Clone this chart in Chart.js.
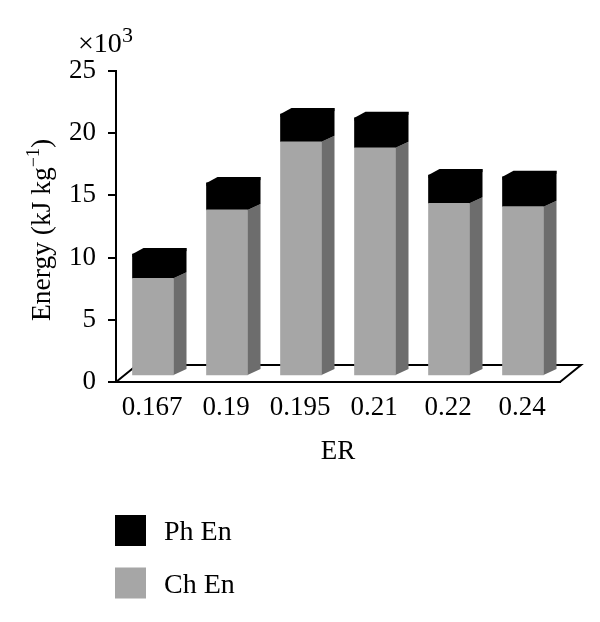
<!DOCTYPE html>
<html>
<head>
<meta charset="utf-8">
<title>Energy vs ER</title>
<script src="https://cdn.jsdelivr.net/npm/chart.js@4/dist/chart.umd.min.js"></script>
<style>
  html, body { margin: 0; padding: 0; background: #fff; }
  canvas { display: block; }
</style>
</head>
<body>
<canvas id="chart" width="600" height="622"></canvas>
<script>
const categories = ["0.167", "0.19", "0.195", "0.21", "0.22", "0.24"];
const chEn = [7.85, 13.35, 18.83, 18.35, 13.88, 13.61];
const phEn = [1.95, 2.17, 2.23, 2.41, 2.27, 2.41];
const yTicks = [0, 5, 10, 15, 20, 25];

const serif = '"Liberation Serif", serif';
const labelFont = { family: serif, size: 27 };

// fake 3D: bars sit a bit behind the front edge of the floor
const lift = 6;
const depthX = 13;
const depthY = 6;

function poly(ctx, pts, fill) {
  ctx.beginPath();
  pts.forEach((p, i) => (i ? ctx.lineTo(p[0], p[1]) : ctx.moveTo(p[0], p[1])));
  ctx.closePath();
  ctx.fillStyle = fill;
  ctx.fill();
}

const bars3d = {
  id: "bars3d",
  beforeDatasetsDraw(chart) {
    const { ctx, chartArea } = chart;
    const y0 = chart.scales.y.getPixelForValue(0);

    // floor
    ctx.save();
    ctx.strokeStyle = "#000";
    ctx.lineWidth = 2;
    ctx.beginPath();
    ctx.moveTo(chartArea.left, y0);
    ctx.lineTo(chartArea.left + 21, y0 - 17);
    ctx.lineTo(chartArea.right + 21, y0 - 17);
    ctx.lineTo(chartArea.right, y0);
    ctx.stroke();
    ctx.restore();

    // stays translated until afterDatasetsDraw so the library bars move too
    ctx.save();
    ctx.translate(0, -lift);
    chart.data.datasets.forEach((ds, i) => {
      chart.getDatasetMeta(i).data.forEach((bar) => {
        const r = bar.x + bar.width / 2;
        const l = bar.x - bar.width / 2;
        // 1px overlap under the front face, otherwise a seam shows on the black
        poly(ctx, [[r - 1, bar.y], [r, bar.y], [r + depthX, bar.y - depthY], [r + depthX, bar.base - depthY], [r, bar.base], [r - 1, bar.base]], ds.sideColor);
        if (i === chart.data.datasets.length - 1) {
          poly(ctx, [[l, bar.y + 1], [l, bar.y], [l + 11, bar.y - depthY], [r + depthX, bar.y - depthY], [r + depthX, bar.y - depthY + 3], [r, bar.y + 3], [l, bar.y + 3]], ds.backgroundColor);
        }
      });
    });
  },
  afterDatasetsDraw(chart) {
    chart.ctx.restore();
  },
  afterDraw(chart) {
    const { ctx } = chart;
    ctx.save();
    ctx.fillStyle = "#000";
    ctx.textBaseline = "alphabetic";
    ctx.textAlign = "left";

    // multiplier above the y axis
    ctx.font = `28px ${serif}`;
    ctx.fillText("×10", 78, 52);
    ctx.font = `22px ${serif}`;
    ctx.fillText("3", 122, 42);

    // y axis title, has a superscript so the axis title option won't do
    ctx.save();
    ctx.translate(50, 321);
    ctx.rotate(-Math.PI / 2);
    ctx.font = `27.5px ${serif}`;
    let x = 0;
    ctx.fillText("Energy (kJ kg", 0, 0);
    x += ctx.measureText("Energy (kJ kg").width;
    ctx.font = `18px ${serif}`;
    ctx.fillText("−1", x, -11);
    x += ctx.measureText("−1").width;
    ctx.font = `27.5px ${serif}`;
    ctx.fillText(")", x, 0);
    ctx.restore();

    // legend, top of the stack first
    const items = [...chart.data.datasets].reverse();
    const rows = [515, 567.5];
    items.forEach((ds, i) => {
      ctx.fillStyle = ds.backgroundColor;
      ctx.fillRect(115, rows[i], 31, 31);
      ctx.fillStyle = "#000";
      ctx.font = `28px ${serif}`;
      ctx.fillText(ds.label, 164, rows[i] + 25);
    });
    ctx.restore();
  },
};

new Chart(document.getElementById("chart"), {
  type: "bar",
  data: {
    labels: categories,
    datasets: [
      { label: "Ch En", data: chEn, backgroundColor: "#a6a6a6", sideColor: "#6d6d6d", barThickness: 41 },
      { label: "Ph En", data: phEn, backgroundColor: "#000000", sideColor: "#000000", barThickness: 41 },
    ],
  },
  options: {
    responsive: false,
    animation: false,
    layout: { padding: { top: 71, right: 40, left: 0, bottom: 0 } },
    plugins: { legend: { display: false }, tooltip: { enabled: false } },
    scales: {
      x: {
        stacked: true,
        grid: { display: false },
        border: { display: true, color: "#000", width: 2 },
        ticks: { color: "#000", font: labelFont, padding: 2, labelOffset: -1, maxRotation: 0, autoSkip: false },
        title: { display: true, text: "ER", color: "#000", font: labelFont, padding: { top: 12, bottom: 154 } },
        afterFit(scale) { scale.height = 240; },
      },
      y: {
        stacked: true,
        min: 0,
        max: 25,
        afterBuildTicks(scale) { scale.ticks = yTicks.map((v) => ({ value: v })); },
        grid: { drawOnChartArea: false, drawTicks: true, tickLength: 8, color: "#000", lineWidth: 2 },
        border: { display: true, color: "#000", width: 2 },
        ticks: { color: "#000", font: labelFont, padding: 12 },
        afterFit(scale) { scale.width = 116; },
      },
    },
  },
  plugins: [bars3d],
});
</script>
</body>
</html>
